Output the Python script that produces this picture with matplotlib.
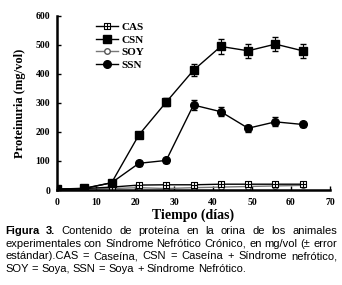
import matplotlib
matplotlib.use('Agg')
import matplotlib.pyplot as plt
from matplotlib.path import Path

# datos
dias = [0, 7, 14, 21, 28, 35, 42, 49, 56, 63]
cas = [3, 5, 10, 17, 18, 18, 20, 20, 20, 20]
csn = [3, 6, 25, 190, 303, 413, 495, 480, 503, 480]
csn_err = [2, 3, 5, 10, 15, 20, 25, 25, 25, 25]
soy = [2, 3, 5, 8, 5, 8, 10, 12, 14, 16]
ssn = [2, 5, 25, 92, 102, 293, 270, 213, 235, 226]
ssn_err = [2, 3, 5, 8, 8, 18, 15, 12, 15, 10]

xticks = [0, 10, 20, 30, 40, 50, 60, 70]
yticks = [0, 100, 200, 300, 400, 500, 600]

caption = [
    "Figura 3. Contenido de proteína en la orina de los animales",
    "experimentales con Síndrome Nefrótico Crónico, en mg/vol (± error",
    "estándar).CAS = Caseína, CSN = Caseína + Síndrome nefrótico,",
    "SOY = Soya, SSN = Soya + Síndrome Nefrótico.",
]

# cuadrado con cruz para CAS
box = Path([(-1, -1), (1, -1), (1, 1), (-1, 1), (-1, -1),
            (0, -1), (0, 1), (-1, 0), (1, 0)],
           [Path.MOVETO, Path.LINETO, Path.LINETO, Path.LINETO, Path.CLOSEPOLY,
            Path.MOVETO, Path.LINETO, Path.MOVETO, Path.LINETO])

serif = 'Liberation Serif'
sans = 'Liberation Sans'
W, H = 342, 285
fig = plt.figure(figsize=(3.42, 2.85), dpi=100)
ax = fig.add_axes([57/W, 1 - 190/H, 273/W, 174/H])

cs = ax.errorbar(dias, csn, yerr=csn_err, color='black', marker='s', ms=5.5, lw=1,
                 elinewidth=0.8, capsize=2, zorder=3)
ss = ax.errorbar(dias, ssn, yerr=ssn_err, color='black', marker='o', ms=5.5, lw=1,
                 elinewidth=0.8, capsize=2, zorder=3)
so, = ax.plot(dias, soy, color='#777777', marker='o', ms=4, mfc='white', mec='#555555',
              lw=1, zorder=2)
ca, = ax.plot(dias, cas, color='black', marker=box, ms=5, mfc='white', mec='black',
              mew=0.8, lw=1, zorder=2)

ax.legend([ca, cs.lines[0], so, ss.lines[0]], ['CAS', 'CSN', 'SOY', 'SSN'],
          loc='upper left', bbox_to_anchor=(0.125, 0.99), frameon=False,
          handlelength=2.0, handletextpad=0.3, labelspacing=0.25, borderaxespad=0,
          prop={'family': serif, 'weight': 'bold', 'size': 8})

ax.set_xlim(0, 70)
ax.set_ylim(0, 600)
ax.set_xticks(xticks)
ax.set_yticks(yticks)
for lab in ax.get_xticklabels() + ax.get_yticklabels():
    lab.set_family(serif)
    lab.set_weight('bold')
    lab.set_fontsize(7)
ax.tick_params(direction='in', length=3, width=1)
ax.tick_params(axis='x', pad=6)
ax.tick_params(axis='y', pad=5)
ax.spines['top'].set_visible(False)
ax.spines['right'].set_visible(False)
ax.spines['left'].set_linewidth(1.8)
ax.spines['bottom'].set_linewidth(1.8)
ax.set_xlabel('Tiempo (días)', family=serif, weight='bold', fontsize=10, labelpad=1)
ax.set_ylabel('Proteinuria (mg/vol)', family=serif, weight='bold', fontsize=9, labelpad=7)

# pie de figura justificado
x0, x1 = 5, 337
fig.canvas.draw()
r = fig.canvas.get_renderer()
for i, line in enumerate(caption):
    y = 1 - (231 + i * 12.7) / H
    words = line.split(' ')
    bold = [i == 0 and j < 2 for j in range(len(words))]
    ts = [fig.text(0, y, w, family=sans, fontsize=8, va='center',
                   weight='bold' if b else 'normal') for w, b in zip(words, bold)]
    widths = [t.get_window_extent(r).width for t in ts]
    if i < len(caption) - 1:
        gap = (x1 - x0 - sum(widths)) / (len(words) - 1)
    else:
        gap = fig.text(0, 0, ' ', family=sans, fontsize=8).get_window_extent(r).width
    x = x0
    for t, w in zip(ts, widths):
        t.set_x(x / W)
        x += w + gap

fig.savefig('out.png', dpi=100, facecolor='white')
